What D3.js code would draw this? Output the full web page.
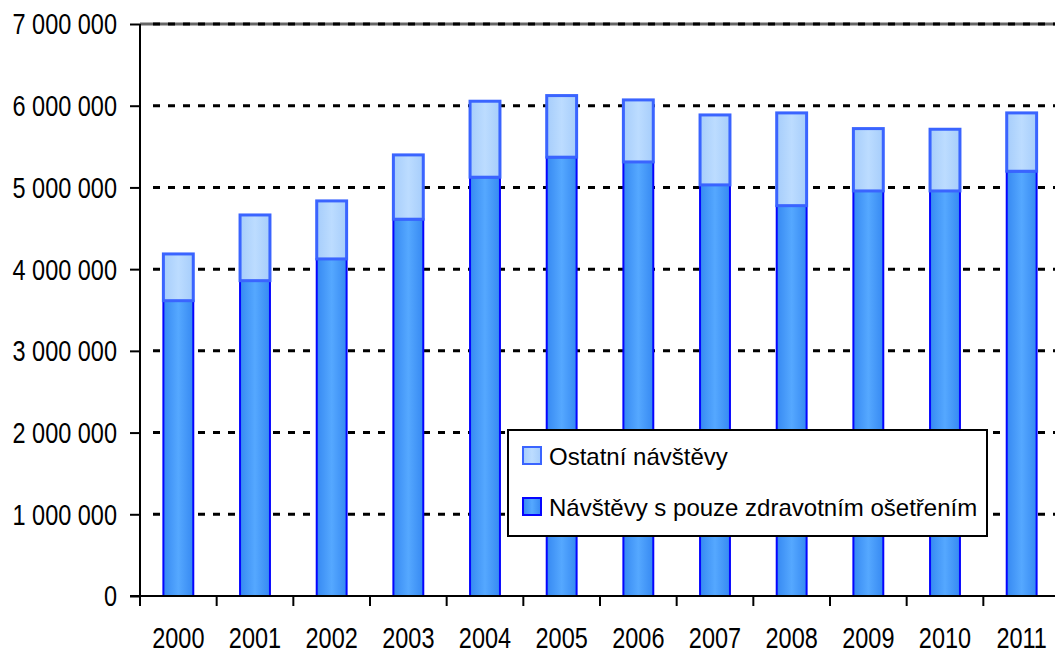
<!DOCTYPE html>
<html>
<head>
<meta charset="utf-8">
<script src="https://d3js.org/d3.v7.min.js"></script>
<style>
  body { margin: 0; background: #fff; }
  svg { display: block; }
  text { font-family: "Liberation Sans", Arial, sans-serif; fill: #000; }
  .grid line { stroke: #000; stroke-width: 3; stroke-dasharray: 7,8; }
  .axis path, .axis line { stroke: #000; stroke-width: 2; }
</style>
</head>
<body>
<svg id="chart" width="1055" height="653"></svg>
<script>
  // data
  var years = ['2000', '2001', '2002', '2003', '2004', '2005', '2006', '2007', '2008', '2009', '2010', '2011'];
  var pouzeOseteni = [3614000, 3859000, 4125000, 4611000, 5125000, 5370000, 5312000, 5031000, 4777000, 4957000, 4957000, 5198000];
  var celkem = [4186000, 4663000, 4835000, 5398000, 6055000, 6124000, 6071000, 5887000, 5912000, 5720000, 5712000, 5912000];
  var seriesNames = ['Ostatní návštěvy', 'Návštěvy s pouze zdravotním ošetřením'];
  var yTicks = [0, 1000000, 2000000, 3000000, 4000000, 5000000, 6000000, 7000000];

  var svg = d3.select('#chart');
  var plotLeft = 140, plotRight = 1060, plotTop = 24, plotBottom = 596;

  var x = d3.scaleBand().domain(years).range([plotLeft, plotRight]);
  var y = d3.scaleLinear().domain([0, 7000000]).range([plotBottom, plotTop]);
  var barW = x.bandwidth() * 0.39;

  // axis labels use a narrow font in the original: squeeze the glyphs sideways
  function narrow(sel, k) {
    sel.each(function() {
      var len = this.getComputedTextLength();
      d3.select(this).attr('textLength', len * k).attr('lengthAdjust', 'spacingAndGlyphs');
    });
  }

  var defs = svg.append('defs');
  function grad(id, edge, mid) {
    var g = defs.append('linearGradient').attr('id', id)
      .attr('x1', 0).attr('x2', 1).attr('y1', 0).attr('y2', 0);
    g.append('stop').attr('offset', '0%').attr('stop-color', edge);
    g.append('stop').attr('offset', '50%').attr('stop-color', mid);
    g.append('stop').attr('offset', '100%').attr('stop-color', edge);
  }
  grad('gDark', '#3689f2', '#55a8ff');
  grad('gLight', '#a6cdfb', '#bcdcff');

  // gridlines
  svg.append('line')
    .attr('x1', plotLeft).attr('x2', plotRight)
    .attr('y1', y(7000000)).attr('y2', y(7000000))
    .attr('stroke', '#666').attr('stroke-width', 3);
  svg.append('g').attr('class', 'grid')
    .selectAll('line')
    .data(yTicks.filter(function(d) { return d > 0; }))
    .enter().append('line')
      .attr('x1', plotLeft + 13).attr('x2', plotRight)
      .attr('y1', function(d) { return y(d); })
      .attr('y2', function(d) { return y(d); });

  var rows = years.map(function(yr, i) {
    return { year: yr, low: pouzeOseteni[i], total: celkem[i] };
  });

  // bottom series
  svg.append('g').selectAll('rect')
    .data(rows)
    .enter().append('rect')
      .attr('x', function(d) { return x(d.year) + (x.bandwidth() - barW) / 2; })
      .attr('y', function(d) { return y(d.low); })
      .attr('width', barW)
      .attr('height', function(d) { return y(0) - y(d.low); })
      .attr('fill', 'url(#gDark)')
      .attr('stroke', '#0505ff')
      .attr('stroke-width', 2);

  // top series
  svg.append('g').selectAll('rect')
    .data(rows)
    .enter().append('rect')
      .attr('x', function(d) { return x(d.year) + (x.bandwidth() - barW) / 2; })
      .attr('y', function(d) { return y(d.total); })
      .attr('width', barW)
      .attr('height', function(d) { return y(d.low) - y(d.total); })
      .attr('fill', 'url(#gLight)')
      .attr('stroke', '#3a64ff')
      .attr('stroke-width', 3);

  // y axis
  var fmt = d3.format(',');
  var yAxis = svg.append('g').attr('class', 'axis')
    .attr('transform', 'translate(' + plotLeft + ',0)')
    .call(d3.axisLeft(y).tickValues(yTicks).tickSize(10).tickPadding(13)
      .tickFormat(function(d) { return fmt(d).replace(/,/g, ' '); }));
  yAxis.select('.domain').attr('d', 'M0,' + plotTop + 'V' + plotBottom);
  yAxis.selectAll('text').style('font-size', '29px').attr('font-family', null).attr('dy', '0.34em');
  narrow(yAxis.selectAll('text'), 0.81);

  // x axis
  var xAxis = svg.append('g').attr('class', 'axis')
    .attr('transform', 'translate(0,' + plotBottom + ')')
    .call(d3.axisBottom(x).tickSize(0).tickPadding(31));
  xAxis.select('.domain').attr('d', 'M' + (plotLeft - 10) + ',0H' + plotRight);
  xAxis.selectAll('text').style('font-size', '29px').attr('font-family', null);
  narrow(xAxis.selectAll('text'), 0.81);
  xAxis.selectAll('.boundary')
    .data(years)
    .enter().append('line')
      .attr('x1', function(d) { return x(d); })
      .attr('x2', function(d) { return x(d); })
      .attr('y1', 0).attr('y2', 10);

  // legend
  var lg = svg.append('g');
  lg.append('rect')
    .attr('x', 508).attr('y', 430).attr('width', 479).attr('height', 106)
    .attr('fill', '#fff').attr('stroke', '#000').attr('stroke-width', 2);
  var legendItems = [
    { name: seriesNames[0], fill: 'url(#gLight)', stroke: '#3a64ff' },
    { name: seriesNames[1], fill: 'url(#gDark)', stroke: '#0505ff' }
  ];
  var item = lg.selectAll('.item')
    .data(legendItems)
    .enter().append('g')
      .attr('transform', function(d, i) { return 'translate(523,' + (447 + i * 51) + ')'; });
  item.append('rect')
    .attr('width', 18).attr('height', 17)
    .attr('fill', function(d) { return d.fill; })
    .attr('stroke', function(d) { return d.stroke; })
    .attr('stroke-width', 2);
  item.append('text')
    .attr('x', 26).attr('y', 18)
    .style('font-size', '24px')
    .text(function(d) { return d.name; });
</script>
</body>
</html>
